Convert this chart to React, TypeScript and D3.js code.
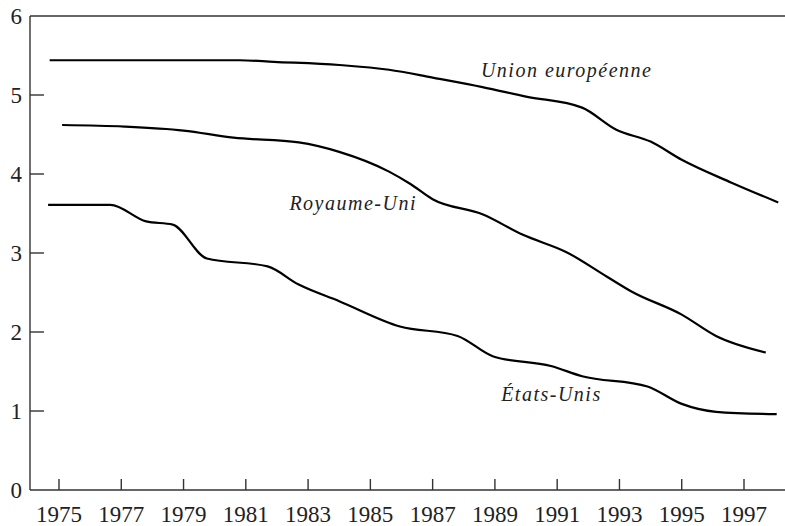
import React, { useEffect, useRef } from "react";
import * as d3 from "d3";

const width = 785,
  height = 526;

// années (fractions) et valeurs
const euYears = [1974.7, 1980.8, 1981.9, 1984.0, 1985.6, 1987.0, 1988.6, 1990.0, 1991.8, 1992.9, 1994.0, 1995.0, 1996.6, 1998.1];
const euValues = [5.44, 5.44, 5.42, 5.38, 5.32, 5.22, 5.1, 4.98, 4.84, 4.56, 4.41, 4.18, 3.89, 3.64];

const ukYears = [1975.1, 1977.1, 1979.0, 1980.6, 1982.7, 1984.0, 1985.6, 1986.3, 1987.0, 1988.6, 1989.9, 1991.3, 1992.6, 1993.4, 1995.0, 1996.1, 1997.7];
const ukValues = [4.62, 4.6, 4.55, 4.46, 4.4, 4.28, 4.03, 3.87, 3.68, 3.49, 3.23, 3.01, 2.7, 2.51, 2.22, 1.95, 1.74];

const usYears = [1974.65, 1976.65, 1977.8, 1978.65, 1979.75, 1981.7, 1982.7, 1984.0, 1985.95, 1987.8, 1988.95, 1990.8, 1991.8, 1993.9, 1995.0, 1996.1, 1998.05];
const usValues = [3.61, 3.61, 3.4, 3.36, 2.93, 2.83, 2.6, 2.39, 2.07, 1.95, 1.69, 1.57, 1.44, 1.31, 1.09, 0.99, 0.96];

const xTicks = [1975, 1977, 1979, 1981, 1983, 1985, 1987, 1989, 1991, 1993, 1995, 1997];
const yTicks = [0, 1, 2, 3, 4, 5, 6];

const seriesNames = ["Union européenne", "Royaume-Uni", "États-Unis"];
const labelPos = [
  [1988.55, 5.23],
  [1982.4, 3.54],
  [1989.2, 1.13],
];

export default function App() {
  const ref = useRef<SVGSVGElement>(null);

  useEffect(() => {
    const svg = d3.select(ref.current);
    svg.selectAll("*").remove();

    const x = d3.scaleLinear().domain([1975, 1997]).range([59, 744]);
    const y = d3.scaleLinear().domain([0, 6]).range([490, 16]);
    const left = 30;

    const font = "'Liberation Serif', 'Times New Roman', serif";

    // cadre : axe gauche, ligne du haut, axe du bas
    const axes = svg.append("g").attr("stroke", "#333").attr("stroke-width", 1.4).attr("fill", "none");
    axes.append("line").attr("x1", left).attr("x2", left).attr("y1", y(6)).attr("y2", y(0));
    axes.append("line").attr("x1", left).attr("x2", width).attr("y1", y(6)).attr("y2", y(6));
    axes.append("line").attr("x1", left).attr("x2", width).attr("y1", y(0)).attr("y2", y(0));

    // graduations
    axes
      .selectAll("line.yt")
      .data(yTicks.filter(d => d > 0 && d < 6))
      .join("line")
      .attr("class", "yt")
      .attr("x1", left)
      .attr("x2", left + 14)
      .attr("y1", d => y(d))
      .attr("y2", d => y(d));

    axes
      .selectAll("line.xt")
      .data(xTicks)
      .join("line")
      .attr("class", "xt")
      .attr("x1", d => x(d))
      .attr("x2", d => x(d))
      .attr("y1", y(0))
      .attr("y2", y(0) - 11);

    svg
      .append("g")
      .attr("font-family", font)
      .attr("font-size", 23)
      .attr("fill", "#222")
      .attr("text-anchor", "end")
      .selectAll("text")
      .data(yTicks)
      .join("text")
      .attr("x", 22)
      .attr("y", d => y(d) + 8)
      .text(d => d);

    svg
      .append("g")
      .attr("font-family", font)
      .attr("font-size", 23)
      .attr("fill", "#222")
      .attr("text-anchor", "middle")
      .selectAll("text")
      .data(xTicks)
      .join("text")
      .attr("x", d => x(d))
      .attr("y", 522)
      .text(d => d);

    // courbes
    const line = d3
      .line<[number, number]>()
      .x(d => x(d[0]))
      .y(d => y(d[1]))
      .curve(d3.curveMonotoneX);

    const series = [
      d3.zip(euYears, euValues),
      d3.zip(ukYears, ukValues),
      d3.zip(usYears, usValues),
    ] as [number, number][][];

    svg
      .append("g")
      .attr("fill", "none")
      .attr("stroke", "#000")
      .attr("stroke-width", 2.2)
      .attr("stroke-linejoin", "round")
      .selectAll("path")
      .data(series)
      .join("path")
      .attr("d", d => line(d));

    // étiquettes
    svg
      .append("g")
      .attr("font-family", font)
      .attr("font-size", 20)
      .attr("font-style", "italic")
      .attr("letter-spacing", 1.5)
      .attr("fill", "#222")
      .selectAll("text")
      .data(seriesNames)
      .join("text")
      .attr("x", (d, i) => x(labelPos[i][0]))
      .attr("y", (d, i) => y(labelPos[i][1]))
      .text(d => d);
  }, []);

  return (
    <svg
      ref={ref}
      width={width}
      height={height}
      style={{ position: "absolute", left: 0, top: 0, background: "#fff" }}
    />
  );
}
